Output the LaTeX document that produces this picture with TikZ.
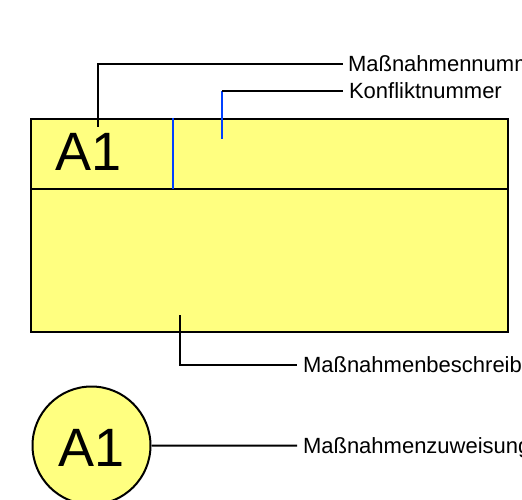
\documentclass[tikz,border=0pt]{standalone}
\usepackage{fontspec}
\setmainfont{Liberation Sans}
\definecolor{fillyel}{HTML}{FFFF80}
\definecolor{leadblue}{HTML}{0040FF}
\begin{document}
\begin{tikzpicture}[x=1pt,y=-1pt,line width=2pt,
  lbl/.style={font=\fontsize{22}{26}\selectfont,anchor=base west,inner sep=0pt},
  big/.style={font=\fontsize{54}{58}\selectfont,anchor=base,inner sep=0pt},
  leader/.style={draw=black,line width=2pt}]
\useasboundingbox (0,0) rectangle (522,500);
\clip (0,0) rectangle (522,500);
% main box
\node[draw,fill=fillyel,line width=2pt,minimum width=477pt,minimum height=212.5pt,
      inner sep=0pt,anchor=north west] (box) at (30,118) {};
\draw (box.west |- 0,188.5) -- (box.east |- 0,188.5);
\draw[leadblue] (173,118) -- (173,188.5);
\node[big] (num) at (89,170.7) {A1};
% circle
\node[draw,circle,fill=fillyel,minimum size=118pt,inner sep=0pt] (circ) at (91.5,445.5) {};
\node[big] (cnum) at (91.5,466) {A1};
% labels
\node[lbl] (l1) at (347,72) {Maßnahmennummer};
\node[lbl] (l2) at (348,98.8) {Konfliktnummer};
\node[lbl] (l3) at (302,372.8) {Maßnahmenbeschreibung};
\node[lbl] (l4) at (302,453.5) {Maßnahmenzuweisung};
% leader coordinates
\coordinate (s1) at (97.7,127);
\coordinate (e1) at (343,64.3);
\coordinate (s2) at (222,138.7);
\coordinate (k2) at (222,91);
\coordinate (e2) at (343,91);
\coordinate (s3) at (180.3,315);
\coordinate (e3) at (297,365);
\coordinate (e4) at (297,445.7);
% leaders
\draw[leader] (s1) |- (e1);
\draw[leadblue] (s2) -- (k2);
\draw[leader] (k2) -- (e2);
\draw[leader] (s3) |- (e3);
\draw[leader] (circ.east) -- (e4);
\end{tikzpicture}
\end{document}
